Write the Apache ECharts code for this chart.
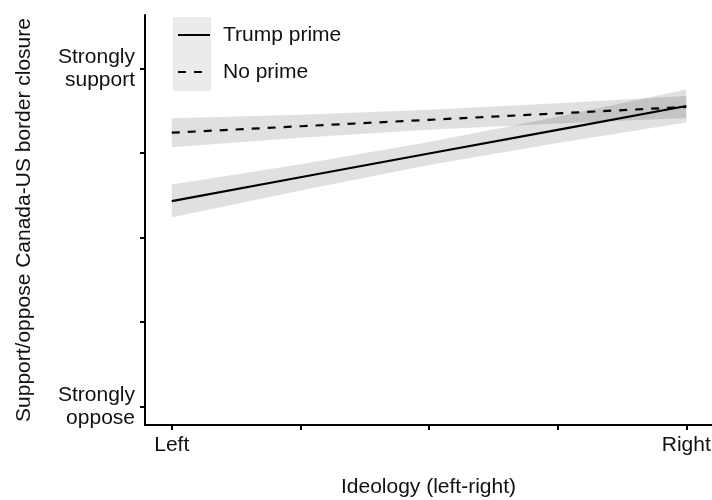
<!DOCTYPE html>
<html>
<head>
<meta charset="utf-8">
<script src="https://cdn.jsdelivr.net/npm/echarts@6/dist/echarts.min.js"></script>
<style>html,body{margin:0;padding:0;background:#fff;}#c{width:712px;height:500px;}</style>
</head>
<body>
<div id="c"></div>
<script>
// Ideology positions (0 = Left, 10 = Right)
const xVals = [0, 2.5, 5, 7.5, 10];
const xTickVals = [0, 2.5, 5, 7.5, 10];
const xLabelVals = [0, 10];
const xLabelText = {0: 'Left', 10: 'Right'};
const yTickVals = [1, 2, 3, 4, 5];
const yLabelVals = [1, 5];
const yLabelText = {1: 'Strongly\noppose', 5: 'Strongly\nsupport'};

const seriesNames = ['Trump prime', 'No prime'];
// Predicted support and 95% CI
const trumpFit   = [3.431, 3.712, 3.993, 4.273, 4.554];
const trumpLower = [3.236, 3.557, 3.857, 4.118, 4.359];
const trumpUpper = [3.626, 3.867, 4.129, 4.428, 4.749];
const noFit      = [4.239, 4.315, 4.391, 4.467, 4.543];
const noLower    = [4.068, 4.180, 4.273, 4.347, 4.413];
const noUpper    = [4.410, 4.450, 4.509, 4.587, 4.673];

const FONT = 'Liberation Sans, Arial, sans-serif';
const TXT = '#111';

function bandSeries(lower, upper) {
  return {
    type: 'custom',
    silent: true,
    z: 1,
    data: [0],
    renderItem: function (params, api) {
      const pts = [];
      for (let i = 0; i < xVals.length; i++) pts.push(api.coord([xVals[i], upper[i]]));
      for (let i = xVals.length - 1; i >= 0; i--) pts.push(api.coord([xVals[i], lower[i]]));
      return {
        type: 'polygon',
        shape: { points: pts },
        style: { fill: 'rgba(0,0,0,0.12)', stroke: null }
      };
    }
  };
}

const chart = echarts.init(document.getElementById('c'), null, { renderer: 'canvas' });
chart.setOption({
  animation: false,
  backgroundColor: '#fff',
  textStyle: { fontFamily: FONT },
  grid: { left: 145, right: 0, top: 15, bottom: 75, containLabel: false, outerBoundsMode: 'none' },
  graphic: [{
    type: 'rect', z: 0,
    shape: { x: 173, y: 17, width: 38, height: 74 },
    style: { fill: '#ebebeb' }
  }],
  legend: {
    orient: 'vertical',
    left: 177, top: 23,
    itemWidth: 32, itemHeight: 14, itemGap: 13,
    padding: 0,
    data: seriesNames,
    itemStyle: { opacity: 0, color: 'transparent', borderColor: 'transparent', borderWidth: 0 },
    textStyle: { fontFamily: FONT, fontSize: 21, color: TXT, lineHeight: 24, padding: [0, 0, 0, 8] }
  },
  xAxis: {
    type: 'value', min: -0.52, max: 10.5,
    name: 'Ideology (left-right)', nameLocation: 'middle', nameGap: 52,
    nameTextStyle: { fontFamily: FONT, fontSize: 21, color: TXT },
    splitLine: { show: false },
    axisLine: { show: true, onZero: false, lineStyle: { color: '#000', width: 2 } },
    axisTick: { show: true, length: 5, customValues: xTickVals, lineStyle: { color: '#000', width: 2 } },
    axisLabel: {
      customValues: xLabelVals, margin: 10,
      fontFamily: FONT, fontSize: 21, color: TXT,
      formatter: v => xLabelText[v] || ''
    }
  },
  yAxis: {
    type: 'value', min: 0.784, max: 5.63,
    name: 'Support/oppose Canada-US border closure', nameLocation: 'middle', nameGap: 110,
    nameTextStyle: { fontFamily: FONT, fontSize: 21, color: TXT },
    splitLine: { show: false },
    axisLine: { show: true, onZero: false, lineStyle: { color: '#000', width: 2 } },
    axisTick: { show: true, length: 5, customValues: yTickVals, lineStyle: { color: '#000', width: 2 } },
    axisLabel: {
      customValues: yLabelVals, margin: 10,
      fontFamily: FONT, fontSize: 21, color: TXT, lineHeight: 23, align: 'right',
      formatter: v => yLabelText[v] || ''
    }
  },
  series: [
    bandSeries(trumpLower, trumpUpper),
    bandSeries(noLower, noUpper),
    {
      name: seriesNames[0], type: 'line', z: 3, symbol: 'none', showSymbol: false,
      data: xVals.map((x, i) => [x, trumpFit[i]]),
      lineStyle: { color: '#000', width: 2.2, type: 'solid' },
      itemStyle: { color: '#000' }
    },
    {
      name: seriesNames[1], type: 'line', z: 3, symbol: 'none', showSymbol: false,
      data: xVals.map((x, i) => [x, noFit[i]]),
      lineStyle: { color: '#000', width: 2.2, type: [8, 8] },
      itemStyle: { color: '#000' }
    }
  ]
});
</script>
</body>
</html>
